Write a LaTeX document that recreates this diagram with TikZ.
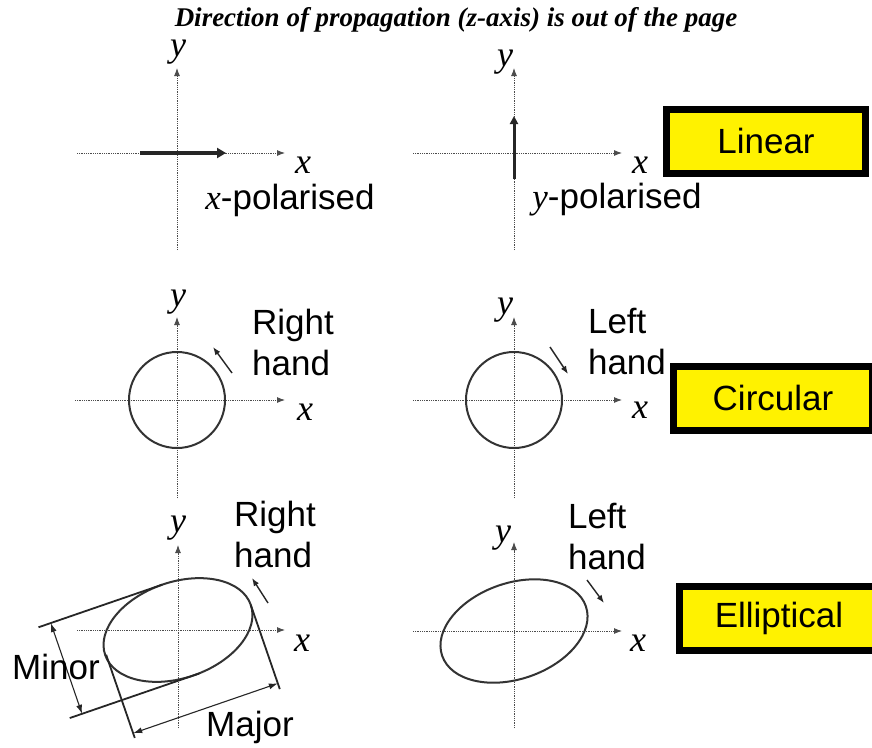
\documentclass[tikz,border=0pt]{standalone}
\usepackage{fontspec}
\setmainfont{Liberation Sans}
\newfontfamily\serifit{Liberation Serif}
\usetikzlibrary{arrows.meta}

\begin{document}
\begin{tikzpicture}[
  x=1pt, y=-1pt,
  axis/.style={gray!60!black, line width=0.9pt, dash pattern=on 1pt off 0.8pt, -{Latex[length=8pt,width=6pt]}},
  curve/.style={draw=black!80, line width=2pt},
  pol/.style={black!85, line width=4.5pt, -{Triangle[length=9pt,width=10pt]}},
  spin/.style={black!85, line width=1.4pt, -{Latex[length=8pt,width=6pt]}},
  dim/.style={black!85, line width=1.1pt, {Latex[length=9pt,width=6pt]}-{Latex[length=9pt,width=6pt]}},
  tang/.style={black!85, line width=1.8pt},
  lbl/.style={font=\fontsize{35}{41}\selectfont, align=left, inner sep=0pt},
  ax/.style={font=\fontsize{36}{40}\selectfont\serifit\itshape, inner sep=0pt},
  tag/.style={draw=black, line width=7pt, fill=yellow, minimum width=199pt, minimum height=64pt, font=\fontsize{35}{40}\selectfont}
]
\useasboundingbox[fill=white] (0,0) rectangle (872,747);

\node[font=\fontsize{27}{30}\selectfont\serifit\bfseries\itshape] (title) at (456,20) {Direction of propagation (z-axis) is out of the page};

% origins of the six panels
\coordinate (o1) at (177,153);
\coordinate (o2) at (514,153);
\coordinate (o3) at (177,400);
\coordinate (o4) at (514,400);
\coordinate (o5) at (178,630);
\coordinate (o6) at (514,631);

% axes
\draw[axis] (o1) ++(-100,0) -- ++(208,0);
\draw[axis] (o1) ++(0,97) -- ++(0,-182);
\draw[axis] (o2) ++(-101,0) -- ++(209,0);
\draw[axis] (o2) ++(0,97) -- ++(0,-182);
\draw[axis] (o3) ++(-102,0) -- ++(210,0);
\draw[axis] (o3) ++(0,98) -- ++(0,-181);
\draw[axis] (o4) ++(-101,0) -- ++(209,0);
\draw[axis] (o4) ++(0,98) -- ++(0,-181);
\draw[axis] (o5) ++(-101,0) -- ++(208,0);
\draw[axis] (o5) ++(0,98) -- ++(0,-183);
\draw[axis] (o6) ++(-101,0) -- ++(209,0);
\draw[axis] (o6) ++(0,97) -- ++(0,-186);

\node[ax] (x1) at (303,165) {x};
\node[ax] (y1) at (178,52) {y};
\node[ax] (x2) at (640,165) {x};
\node[ax] (y2) at (505,62) {y};
\node[ax] (x3) at (305,412) {x};
\node[ax] (y3) at (178,302) {y};
\node[ax] (x4) at (640,410) {x};
\node[ax] (y4) at (505,310) {y};
\node[ax] (x5) at (302,643) {x};
\node[ax] (y5) at (178,528) {y};
\node[ax] (x6) at (638,643) {x};
\node[ax] (y6) at (503,538) {y};

% linear
\coordinate (xs) at (140,153);
\coordinate (xe) at (226,153);
\draw[pol] (xs) -- (xe);
\coordinate (ys) at (514,179);
\coordinate (ye) at (514,116);
\draw[pol, line width=3pt, -{Triangle[length=8pt,width=8pt]}] (ys) -- (ye);
\node[lbl] (xpol) at (290,200) {{\serifit\itshape x}-polarised};
\node[lbl] (ypol) at (617,200) {{\serifit\itshape y}-polarised};

% circular
\draw[curve] (o3) circle[radius=48pt];
\draw[curve] (o4) circle[radius=48pt];
\coordinate (r3s) at (232,373);
\coordinate (r3e) at (213,347);
\draw[spin] (r3s) -- (r3e);
\coordinate (l4s) at (550,347);
\coordinate (l4e) at (568,374);
\draw[spin] (l4s) -- (l4e);
\node[lbl] (rh3) at (293,342) {Right\\hand};
\node[lbl] (lh4) at (627,342) {Left\\hand};

% elliptical, right hand with its axes
\begin{scope}[shift={(o5)}, rotate=19]
\draw[curve] (0,0) ellipse[x radius=77pt, y radius=48pt];
\coordinate (ta) at (-131,-48);
\coordinate (tb) at (0,-48);
\coordinate (ba) at (-131,48);
\coordinate (bb) at (6,48);
\coordinate (la) at (-76,0);
\coordinate (lb) at (-76,88);
\coordinate (ra) at (77,0);
\coordinate (rb) at (77,89);
\coordinate (mia) at (-118,-48);
\coordinate (mib) at (-118,48);
\coordinate (maa) at (-76,83);
\coordinate (mab) at (77,83);
\end{scope}
\draw[tang] (ta) -- (tb);
\draw[tang] (ba) -- (bb);
\draw[tang] (la) -- (lb);
\draw[tang] (ra) -- (rb);
\draw[dim] (mia) -- (mib);
\draw[dim] (maa) -- (mab);
\node[lbl] (minor) at (56,667) {Minor};
\node[lbl] (major) at (250,727) {Major};
\coordinate (r5s) at (268,603);
\coordinate (r5e) at (252,578);
\draw[spin] (r5s) -- (r5e);
\node[lbl] (rh5) at (275,534) {Right\\hand};

% elliptical, left hand
\draw[curve, rotate around={19:(o6)}] (o6) ellipse[x radius=76pt, y radius=48pt];
\coordinate (l6s) at (587,580);
\coordinate (l6e) at (604,603);
\draw[spin] (l6s) -- (l6e);
\node[lbl] (lh6) at (607,536) {Left\\hand};

% boxes
\node[tag] (linear) at (766,141) {Linear};
\node[tag] (circular) at (773,398) {Circular};
\node[tag] (elliptical) at (779,618) {Elliptical};
\end{tikzpicture}
\end{document}
